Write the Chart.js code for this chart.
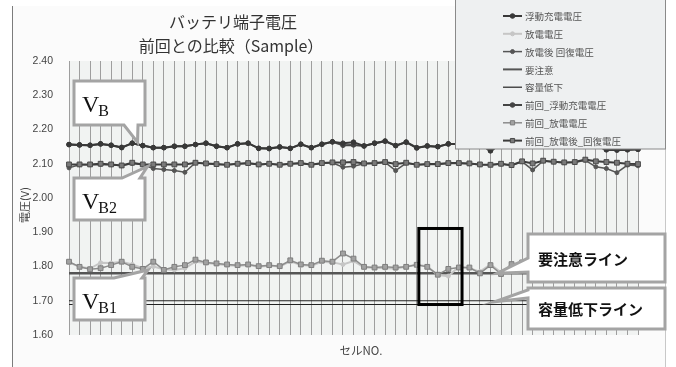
<!DOCTYPE html>
<html>
<head>
<meta charset="utf-8">
<script src="https://cdn.jsdelivr.net/npm/chart.js@4.4.1/dist/chart.umd.min.js"></script>
<style>
  html, body { margin: 0; padding: 0; background: #fff; }
  #wrap { position: relative; width: 676px; height: 367px; }
</style>
</head>
<body>
<div id="wrap"><canvas id="chart" width="676" height="367"></canvas></div>
<script>
// cell numbers (x categories)
const CELLS = [1,2,3,4,5,6,7,8,9,10,11,12,13,14,15,16,17,18,19,20,21,22,23,24,25,26,27,28,29,30,
  31,32,33,34,35,36,37,38,39,40,41,42,43,44,45,46,47,48,49,50,51,52,53,54,55];

// voltages (V)
const FLOAT_NOW = [2.156,2.155,2.154,2.158,2.154,2.147,2.160,2.153,2.147,2.147,2.151,2.151,2.156,2.160,2.151,
  2.147,2.158,2.160,2.145,2.144,2.149,2.145,2.157,2.147,2.157,2.164,2.160,2.163,2.152,2.160,
  2.166,2.153,2.163,2.146,2.152,2.150,2.158,2.158,2.156,2.157,2.138,2.157,2.160,2.158,2.156,
  2.160,2.157,2.159,2.156,2.158,2.153,2.141,2.140,2.141,2.142];
const DISCHARGE_NOW = [1.812,1.799,1.794,1.811,1.810,1.814,1.806,1.795,1.800,1.792,1.790,1.795,1.814,1.810,1.807,
  1.804,1.802,1.804,1.799,1.802,1.800,1.815,1.804,1.802,1.814,1.812,1.806,1.816,1.797,1.796,
  1.795,1.794,1.799,1.806,1.800,1.775,1.772,1.799,1.795,1.785,1.806,1.783,1.806,1.810,1.803,
  1.801,1.800,1.799,1.804,1.800,1.798,1.802,1.799,1.801,1.800];
const RECOVERY_NOW = [2.088,2.097,2.097,2.098,2.097,2.094,2.101,2.097,2.086,2.083,2.080,2.075,2.103,2.100,2.098,
  2.097,2.099,2.101,2.097,2.099,2.097,2.099,2.101,2.097,2.101,2.103,2.090,2.093,2.100,2.101,
  2.104,2.080,2.102,2.097,2.098,2.098,2.101,2.101,2.100,2.097,2.096,2.099,2.095,2.106,2.082,
  2.108,2.105,2.103,2.104,2.110,2.091,2.086,2.074,2.096,2.094];
const FLOAT_PREV = [2.156,2.155,2.154,2.158,2.154,2.148,2.160,2.153,2.147,2.147,2.151,2.151,2.156,2.160,2.151,
  2.147,2.158,2.160,2.145,2.145,2.149,2.145,2.157,2.147,2.157,2.164,2.154,2.155,2.152,2.160,
  2.166,2.153,2.163,2.147,2.152,2.150,2.158,2.158,2.156,2.157,2.138,2.157,2.160,2.158,2.156,
  2.160,2.157,2.159,2.156,2.158,2.153,2.141,2.140,2.141,2.142];
const DISCHARGE_PREV = [1.814,1.799,1.792,1.795,1.804,1.814,1.799,1.793,1.814,1.790,1.799,1.804,1.820,1.812,1.809,
  1.806,1.804,1.806,1.801,1.804,1.801,1.818,1.806,1.804,1.817,1.814,1.838,1.823,1.799,1.797,
  1.799,1.797,1.799,1.805,1.799,1.776,1.793,1.797,1.797,1.780,1.804,1.778,1.807,1.812,1.805,
  1.800,1.803,1.798,1.806,1.801,1.797,1.804,1.800,1.802,1.799];
const RECOVERY_PREV = [2.098,2.098,2.098,2.100,2.098,2.095,2.103,2.098,2.098,2.098,2.098,2.098,2.103,2.101,2.099,
  2.097,2.100,2.102,2.098,2.100,2.097,2.100,2.102,2.097,2.102,2.104,2.104,2.105,2.101,2.102,
  2.105,2.099,2.103,2.097,2.099,2.099,2.102,2.102,2.101,2.098,2.097,2.100,2.096,2.107,2.101,
  2.109,2.106,2.104,2.105,2.112,2.107,2.105,2.103,2.100,2.099];

// threshold lines
const CAUTION_V = 1.78;
const LOW_V = 1.70;
const LOW_V_INNER = 1.689;

const Y_TICKS = { min: 1.6, max: 2.4, step: 0.1 };

const TITLE = ["バッテリ端子電圧", "前回との比較（Sample）"];
const Y_TITLE = "電圧(V)";
const X_TITLE = "セルNO.";

const JP = '"Noto Sans CJK JP", "Noto Sans", sans-serif';

// threshold across all cells, as two end points
const level = (v) => [{ x: String(CELLS[0]), y: v }, { x: String(CELLS[CELLS.length - 1]), y: v }];

const series = (label, data, o) => Object.assign({
  label, data, clip: false, tension: 0, fill: false,
  pointBorderWidth: 1, pointHoverRadius: 0
}, o);

const datasets = [
  series("浮動充電電圧", FLOAT_NOW, { borderColor:"#383838", borderWidth:2, pointStyle:"circle", pointRadius:2.3, pointBackgroundColor:"#383838", pointBorderColor:"#383838", order:2 }),
  series("放電電圧", DISCHARGE_NOW, { borderColor:"#c6c6c6", borderWidth:2, pointStyle:"circle", pointRadius:2, pointBackgroundColor:"#c6c6c6", pointBorderColor:"#c6c6c6", order:6 }),
  series("放電後 回復電圧", RECOVERY_NOW, { borderColor:"#555", borderWidth:1.5, pointStyle:"circle", pointRadius:2, pointBackgroundColor:"#555", pointBorderColor:"#555", order:4 }),
  series("要注意", level(CAUTION_V), { borderColor:"#555", borderWidth:2.5, pointRadius:0, order:7 }),
  series("容量低下", level(LOW_V), { borderColor:"#222", borderWidth:1.2, pointRadius:0, order:7 }),
  series("前回_浮動充電電圧", FLOAT_PREV, { borderColor:"#444", borderWidth:2, pointStyle:"circle", pointRadius:2.3, pointBackgroundColor:"#444", pointBorderColor:"#444", order:3 }),
  series("前回_放電電圧", DISCHARGE_PREV, { borderColor:"#8c8c8c", borderWidth:1.5, pointStyle:"rect", pointRadius:3.4, pointBackgroundColor:"#a2a2a2", pointBorderColor:"#7e7e7e", order:5 }),
  series("前回_放電後_回復電圧", RECOVERY_PREV, { borderColor:"#3c3c3c", borderWidth:2, pointStyle:"rect", pointRadius:3.4, pointBackgroundColor:"#7a7a7a", pointBorderColor:"#4a4a4a", order:1 }),
  series("容量低下", level(LOW_V_INNER), { borderColor:"#222", borderWidth:1.2, pointRadius:0, order:7, noLegend:true })
];

// annotation boxes (pixels) and the data point each tail points at (cell index, volts)
const CALLOUTS = [
  { main:"V", sub:"B",  box:[74,81,145,125],  edge:"bottom", base:[124,138], tip:[6.5, 2.163] },
  { main:"V", sub:"B2", box:[74,178,145,220], edge:"top",    base:[122,140], tip:[7.45, 2.092] },
  { main:"V", sub:"B1", box:[74,278,145,320], edge:"top",    base:[114,142], tip:[7.5, 1.790] },
  { text:"要注意ライン",   box:[528,234,665,282], edge:"left", base:[258,272], tip:[40.6, 1.780] },
  { text:"容量低下ライン", box:[528,288,665,329], edge:"left", base:[290,298], tip:[40.4, 1.697] }
];
// highlighted cells (black frame), in cell index / volts
const HIGHLIGHT = { from: 33.2, to: 37.3, top: 1.911, bottom: 1.689 };

function drawMarker(ctx, style, r, x, y) {
  ctx.beginPath();
  if (style === "rect") {
    const s = Math.SQRT1_2 * r;
    ctx.rect(x - s, y - s, 2 * s, 2 * s);
  } else {
    ctx.arc(x, y, r, 0, Math.PI * 2);
  }
  ctx.fill();
  ctx.stroke();
}

const decorations = {
  id: "decorations",
  beforeDraw(chart) {
    const { ctx, chartArea: a } = chart;
    ctx.save();
    ctx.fillStyle = "#fbfbfb";
    ctx.fillRect(12, 6, 653, 361);
    ctx.strokeStyle = "#7c7c7c";
    ctx.lineWidth = 1;
    ctx.beginPath(); ctx.moveTo(12.5, 6); ctx.lineTo(12.5, 367); ctx.stroke();
    ctx.strokeStyle = "#c8c8c8";
    ctx.beginPath(); ctx.moveTo(665.5, 6); ctx.lineTo(665.5, 367); ctx.stroke();
    ctx.fillStyle = "#f1f3f2";
    ctx.fillRect(a.left, a.top, a.right - a.left, a.bottom - a.top);
    ctx.restore();
  },
  afterDraw(chart) {
    const { ctx, scales: { x, y } } = chart;
    ctx.save();

    // highlighted cells
    ctx.strokeStyle = "#000";
    ctx.lineWidth = 3;
    const hx0 = x.getPixelForValue(HIGHLIGHT.from), hx1 = x.getPixelForValue(HIGHLIGHT.to);
    const hy0 = y.getPixelForValue(HIGHLIGHT.top), hy1 = y.getPixelForValue(HIGHLIGHT.bottom);
    ctx.strokeRect(hx0, hy0, hx1 - hx0, hy1 - hy0);

    // callouts
    CALLOUTS.forEach(c => {
      const [l, t, r, b] = c.box;
      const tx = x.getPixelForValue(c.tip[0]), ty = y.getPixelForValue(c.tip[1]);
      ctx.beginPath();
      if (c.edge === "bottom") {
        ctx.moveTo(l, t); ctx.lineTo(r, t); ctx.lineTo(r, b); ctx.lineTo(c.base[1], b);
        ctx.lineTo(tx, ty); ctx.lineTo(c.base[0], b); ctx.lineTo(l, b);
      } else if (c.edge === "top") {
        ctx.moveTo(l, b); ctx.lineTo(l, t); ctx.lineTo(c.base[0], t); ctx.lineTo(tx, ty);
        ctx.lineTo(c.base[1], t); ctx.lineTo(r, t); ctx.lineTo(r, b);
      } else {
        ctx.moveTo(r, t); ctx.lineTo(r, b); ctx.lineTo(l, b); ctx.lineTo(l, c.base[1]);
        ctx.lineTo(tx, ty); ctx.lineTo(l, c.base[0]); ctx.lineTo(l, t);
      }
      ctx.closePath();
      ctx.fillStyle = "#fff";
      ctx.fill();
      ctx.lineWidth = 3;
      ctx.lineJoin = "miter";
      ctx.strokeStyle = "#a4a4a4";
      ctx.stroke();

      ctx.fillStyle = "#111";
      if (c.main) {
        ctx.textBaseline = "alphabetic";
        ctx.textAlign = "left";
        ctx.font = '24px "Liberation Serif", "DejaVu Serif", serif';
        ctx.fillText(c.main, l + 8, t + 31);
        const w = ctx.measureText(c.main).width;
        ctx.font = '16px "Liberation Serif", "DejaVu Serif", serif';
        ctx.fillText(c.sub, l + 8 + w - 1, t + 35);
      } else {
        ctx.textBaseline = "middle";
        ctx.textAlign = "left";
        ctx.font = "bold 15px " + JP;
        ctx.fillText(c.text, l + 10, (t + b) / 2 + 1);
      }
    });

    // legend box over the plot
    ctx.fillStyle = "#eef0f1";
    ctx.fillRect(455, -2, 211, 151);
    ctx.strokeStyle = "#8a8a8a";
    ctx.lineWidth = 1;
    ctx.strokeRect(455.5, -2, 210, 151);
    let row = 0;
    chart.data.datasets.forEach(ds => {
      if (ds.noLegend) return;
      const ly = 16 + row * 17.8;
      ctx.strokeStyle = ds.borderColor;
      ctx.lineWidth = Math.min(ds.borderWidth, 2);
      ctx.beginPath(); ctx.moveTo(503, ly); ctx.lineTo(522, ly); ctx.stroke();
      if (ds.pointRadius > 0) {
        ctx.fillStyle = ds.pointBackgroundColor;
        ctx.strokeStyle = ds.pointBorderColor;
        ctx.lineWidth = 1;
        drawMarker(ctx, ds.pointStyle, Math.min(ds.pointRadius, 3), 512.5, ly);
      }
      ctx.fillStyle = "#555";
      ctx.font = "9.5px " + JP;
      ctx.textAlign = "left";
      ctx.textBaseline = "middle";
      ctx.fillText(ds.label, 525, ly + 0.5);
      row++;
    });

    // titles
    ctx.fillStyle = "#333";
    ctx.textAlign = "center";
    ctx.textBaseline = "middle";
    ctx.font = "16px " + JP;
    ctx.fillText(TITLE[0], 233, 22);
    ctx.fillText(TITLE[1], 231, 46);

    ctx.fillStyle = "#444";
    ctx.font = "11.5px " + JP;
    ctx.fillText(X_TITLE, 361, 351);
    ctx.save();
    ctx.translate(25, 205);
    ctx.rotate(-Math.PI / 2);
    ctx.font = "11px " + JP;
    ctx.fillText(Y_TITLE, 0, 0);
    ctx.restore();

    ctx.restore();
  }
};

new Chart(document.getElementById("chart"), {
  type: "line",
  data: { labels: CELLS.map(String), datasets },
  options: {
    responsive: false,
    animation: false,
    events: [],
    layout: { padding: { left: 0, right: 38, top: 61, bottom: 32 } },
    plugins: { legend: { display: false }, title: { display: false }, tooltip: { enabled: false } },
    scales: {
      x: {
        type: "category",
        offset: false,
        grid: { color: "#9e9e9e", lineWidth: 1, drawTicks: false },
        border: { display: false },
        ticks: { display: false, autoSkip: false },
        afterFit: (s) => { s.height = 0; }
      },
      y: {
        min: Y_TICKS.min,
        max: Y_TICKS.max,
        grid: { display: false, drawTicks: false },
        border: { display: false },
        ticks: {
          stepSize: Y_TICKS.step,
          padding: 16,
          color: "#444",
          font: { family: '"Liberation Sans", Arial, sans-serif', size: 10.5 },
          callback: (v) => Number(v).toFixed(2)
        },
        afterFit: (s) => { s.width = 69; }
      }
    }
  },
  plugins: [decorations]
});
</script>
</body>
</html>
